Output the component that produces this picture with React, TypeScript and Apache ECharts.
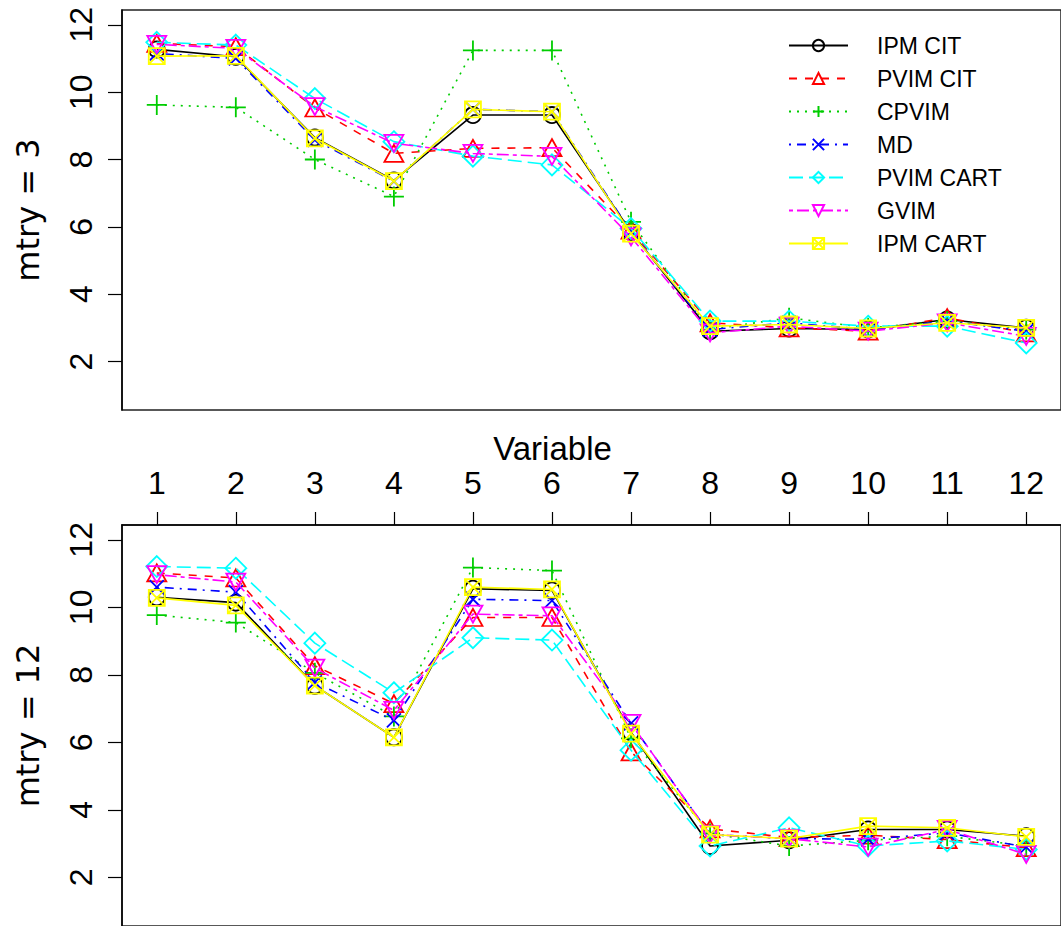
import React, { useEffect, useRef } from "react";
import * as echarts from "echarts";

const variables = [1, 2, 3, 4, 5, 6, 7, 8, 9, 10, 11, 12];
const yTicks = [2, 4, 6, 8, 10, 12];
const seriesNames = ["IPM CIT", "PVIM CIT", "CPVIM", "MD", "PVIM CART", "GVIM", "IPM CART"];

// mtry = 3 panel
const top_ipmCit = [11.27, 11.05, 8.65, 7.38, 9.32, 9.32, 5.85, 2.9, 2.98, 2.95, 3.25, 3.0];
const top_pvimCit = [11.45, 11.35, 9.53, 8.18, 8.33, 8.35, 5.9, 3.15, 3.0, 2.9, 3.3, 2.85];
const top_cpvim = [9.62, 9.55, 8.0, 6.9, 11.24, 11.24, 6.15, 2.95, 3.3, 3.0, 3.2, 2.95];
const top_md = [11.15, 11.0, 8.58, 7.35, 9.49, 9.42, 5.85, 2.95, 3.15, 2.95, 3.2, 2.9];
const top_pvimCart = [11.48, 11.4, 9.81, 8.53, 8.1, 7.84, 5.95, 3.2, 3.2, 3.05, 3.05, 2.55];
const top_gvim = [11.42, 11.3, 9.57, 8.48, 8.18, 8.09, 5.7, 2.85, 3.05, 2.9, 3.15, 2.75];
const top_ipmCart = [11.07, 11.08, 8.63, 7.36, 9.49, 9.42, 5.8, 3.05, 3.1, 2.98, 3.15, 3.0];

// mtry = 12 panel
const bot_ipmCit = [10.3, 10.14, 7.68, 6.15, 10.55, 10.5, 6.3, 2.93, 3.1, 3.42, 3.42, 3.22];
const bot_pvimCit = [11.02, 10.87, 8.27, 7.15, 9.7, 9.7, 5.72, 3.44, 3.18, 3.25, 3.12, 2.88];
const bot_cpvim = [9.77, 9.55, 8.06, 6.77, 11.18, 11.09, 6.12, 3.3, 2.93, 3.1, 3.22, 2.93];
const bot_md = [10.6, 10.45, 7.78, 6.65, 10.24, 10.2, 6.56, 3.27, 3.15, 3.13, 3.32, 2.9];
const bot_pvimCart = [11.21, 11.16, 8.94, 7.47, 9.1, 9.03, 5.77, 2.93, 3.47, 2.93, 3.08, 2.83];
const bot_gvim = [10.97, 10.75, 8.2, 6.95, 9.8, 9.75, 6.56, 3.27, 3.15, 2.9, 3.42, 2.68];
const bot_ipmCart = [10.28, 10.06, 7.68, 6.15, 10.6, 10.53, 6.26, 3.27, 3.15, 3.52, 3.47, 3.2];

const topData = [top_ipmCit, top_pvimCit, top_cpvim, top_md, top_pvimCart, top_gvim, top_ipmCart];
const botData = [bot_ipmCit, bot_pvimCit, bot_cpvim, bot_md, bot_pvimCart, bot_gvim, bot_ipmCart];

const colors = ["#000000", "#FF0000", "#00CD00", "#0000FF", "#00FFFF", "#FF00FF", "#FFFF00"];
const dashes: any[] = ["solid", [8, 8], [2, 6], [2, 6, 9, 6], [14, 6], [4, 4, 12, 4], "solid"];
const symbols = [
  "circle",
  "triangle",
  "path://M0,10L20,10M10,0L10,20",
  "path://M0,0L14,14M0,14L14,0",
  "diamond",
  "path://M0,0L20,0L10,17Z",
  "path://M0,0L16,0L16,16L0,16ZM0,0L16,16M0,16L16,0",
];
const symbolSizes: any[] = [16, [19, 17], 20, 14, 21, [19, 17], 16];

const FONT = "Liberation Sans, Arial, sans-serif";

export default function App() {
  const ref = useRef<HTMLDivElement>(null);
  useEffect(() => {
    if (!ref.current) return;
    const chart = echarts.init(ref.current, undefined, { renderer: "svg" });

    const makeSeries = (data: number[][], gridIdx: number) =>
      data.map((vals, i) => ({
        name: seriesNames[i],
        type: "line",
        xAxisIndex: gridIdx,
        yAxisIndex: gridIdx,
        data: vals.map((v, k) => [variables[k], v]),
        symbol: symbols[i],
        symbolSize: symbolSizes[i],
        showSymbol: true,
        clip: false,
        lineStyle: { color: colors[i], width: 1.6, type: dashes[i] },
        itemStyle: { color: "rgba(0,0,0,0)", borderColor: colors[i], borderWidth: 1.8 },
        emphasis: { disabled: true },
        z: 2 + i,
      }));

    const axisY = (gridIdx: number, name: string) => ({
      type: "value",
      gridIndex: gridIdx,
      min: 0.56,
      max: 12.44,
      name,
      nameLocation: "middle",
      nameGap: 78,
      nameTextStyle: { fontFamily: "DejaVu Sans", fontSize: 32, color: "#000" },
      axisLine: { show: true, lineStyle: { color: "#000", width: 1.5 } },
      axisTick: { show: true, length: 14, inside: false, customValues: yTicks, lineStyle: { color: "#000", width: 1.2 } },
      axisLabel: {
        show: true,
        rotate: 90,
        margin: 25,
        fontSize: 32,
        fontFamily: FONT,
        color: "#000",
        customValues: yTicks,
      },
      splitLine: { show: false },
    });

    const option: any = {
      animation: false,
      backgroundColor: "#ffffff",
      grid: [
        { left: 122, top: 10, width: 945, height: 400, show: true, borderColor: "#222", borderWidth: 1.5, backgroundColor: "transparent" },
        { left: 122, top: 525, width: 945, height: 404, show: true, borderColor: "#222", borderWidth: 1.5, backgroundColor: "transparent" },
      ],
      xAxis: [
        {
          type: "value",
          gridIndex: 0,
          min: 0.56,
          max: 12.44,
          axisLine: { show: false },
          axisTick: { show: false },
          axisLabel: { show: false },
          splitLine: { show: false },
        },
        {
          type: "value",
          gridIndex: 1,
          position: "top",
          min: 0.56,
          max: 12.44,
          name: "Variable",
          nameLocation: "middle",
          nameGap: 60,
          nameTextStyle: { fontFamily: FONT, fontSize: 33, color: "#000", padding: [0, 78, 0, 0] },
          axisLine: { show: true, lineStyle: { color: "#000", width: 1.5 } },
          axisTick: { show: true, length: 13, inside: false, customValues: variables, lineStyle: { color: "#000", width: 1.2 } },
          axisLabel: { show: true, margin: 26, fontSize: 32, fontFamily: FONT, color: "#000", customValues: variables },
          splitLine: { show: false },
        },
      ],
      yAxis: [axisY(0, "mtry = 3"), axisY(1, "mtry = 12")],
      legend: {
        show: true,
        orient: "vertical",
        left: 783,
        top: 29,
        itemWidth: 59,
        itemHeight: 14,
        itemGap: 10,
        data: seriesNames,
        selectedMode: false,
        textStyle: { fontFamily: FONT, fontSize: 23, color: "#000", padding: [0, 0, 0, 24] },
      },
      series: [...makeSeries(topData, 0), ...makeSeries(botData, 1)],
    };
    chart.setOption(option);
    return () => chart.dispose();
  }, []);
  return (
    <div
      ref={ref}
      style={{ position: "fixed", left: 0, top: 0, width: 1061, height: 926, background: "#fff" }}
    />
  );
}
